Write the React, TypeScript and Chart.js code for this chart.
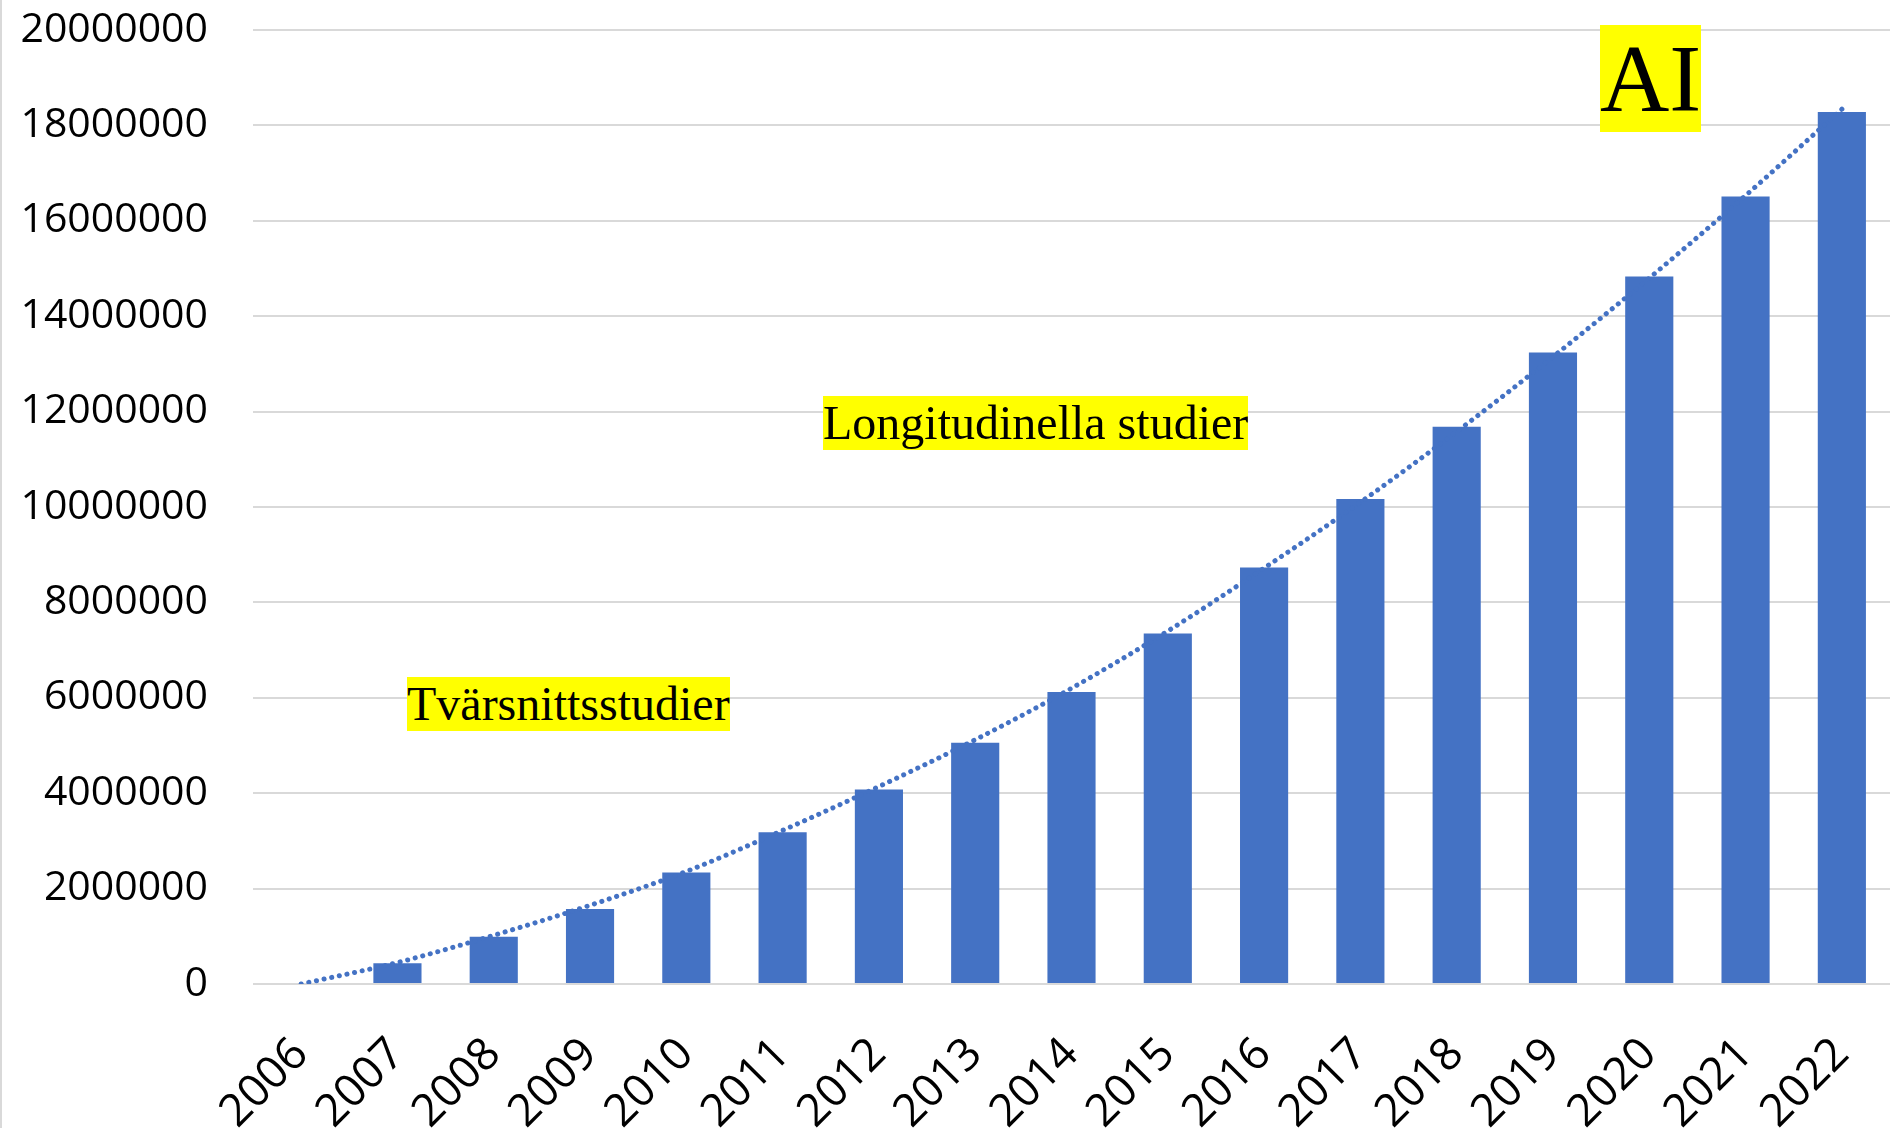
import React, { useEffect, useRef } from "react";
import { Chart, registerables } from "chart.js";

Chart.register(...registerables);

const years = [
  "2006", "2007", "2008", "2009", "2010", "2011", "2012", "2013", "2014",
  "2015", "2016", "2017", "2018", "2019", "2020", "2021", "2022",
];

const barValues = [
  0, 434000, 990000, 1570000, 2340000, 3180000, 4080000, 5060000, 6120000,
  7350000, 8730000, 10170000, 11680000, 13240000, 14830000, 16510000, 18280000,
];

const trendValues = [
  0, 450000, 1020000, 1650000, 2360000, 3220000, 4140000, 5120000, 6200000,
  7400000, 8720000, 10100000, 11580000, 13150000, 14800000, 16530000, 18340000,
];

const yMin = 0;
const yMax = 20000000;
const yStep = 2000000;

const labelTexts = ["Tvärsnittsstudier", "Longitudinella studier", "AI"];

const BLUE = "#4472C4";
const GRID = "#D9D9D9";

export default function App() {
  const canvasRef = useRef<HTMLCanvasElement | null>(null);

  useEffect(() => {
    document.body.style.margin = "0";
    const canvas = canvasRef.current;
    if (!canvas) return;
    const chart = new Chart(canvas, {
      type: "bar",
      data: {
        labels: years,
        datasets: [
          {
            type: "line",
            label: "Trend",
            data: trendValues,
            borderColor: BLUE,
            borderWidth: 5,
            borderDash: [0.1, 7.7],
            borderCapStyle: "round",
            pointRadius: 0,
            fill: false,
            cubicInterpolationMode: "monotone",
            order: 0,
          } as any,
          {
            type: "bar",
            label: "Antal",
            data: barValues,
            backgroundColor: BLUE,
            borderWidth: 0,
            barPercentage: 0.5,
            categoryPercentage: 1,
            order: 1,
          },
        ],
      },
      options: {
        responsive: false,
        animation: false,
        devicePixelRatio: 1,
        layout: { padding: { top: 30, left: 0, right: 0, bottom: 0 } },
        plugins: {
          legend: { display: false },
          tooltip: { enabled: false },
        },
        scales: {
          x: {
            grid: { display: false, drawTicks: false },
            border: { display: false },
            ticks: {
              autoSkip: false,
              minRotation: 45,
              maxRotation: 45,
              padding: 44,
              color: "#000",
              font: { family: "'Open Sans', sans-serif", size: 45 },
            },
            afterFit: (scale: any) => {
              scale.height = 144;
              scale.paddingLeft = 0;
              scale.paddingRight = 0;
              scale.paddingTop = 0;
              scale.paddingBottom = 0;
            },
          },
          y: {
            min: yMin,
            max: yMax,
            grid: { color: GRID, lineWidth: 2, drawTicks: false },
            border: { display: false },
            ticks: {
              stepSize: yStep,
              padding: 45,
              color: "#000",
              font: { family: "'Open Sans', sans-serif", size: 41 },
              callback: (v: any) => String(v),
            },
            afterFit: (scale: any) => {
              scale.width = 253;
              scale.paddingTop = 0;
              scale.paddingBottom = 0;
              scale.paddingLeft = 0;
              scale.paddingRight = 0;
            },
          },
        },
      },
    });
    return () => chart.destroy();
  }, []);

  const boxBase: React.CSSProperties = {
    position: "absolute",
    background: "#FFFF00",
    color: "#000",
    fontFamily: "'Liberation Serif', 'Times New Roman', serif",
    whiteSpace: "nowrap",
  };

  return (
    <div style={{ position: "absolute", left: 0, top: 0, width: 1890, height: 1128, background: "#fff" }}>
      <canvas ref={canvasRef} width={1890} height={1128} style={{ display: "block" }} />
      <div style={{ position: "absolute", left: 0, top: 0, width: 2, height: 1128, background: GRID }} />
      <div style={{ ...boxBase, left: 407, top: 677, fontSize: 48, lineHeight: "54px", height: 54 }}>
        {labelTexts[0]}
      </div>
      <div style={{ ...boxBase, left: 823, top: 396, fontSize: 48, lineHeight: "54px", height: 54 }}>
        {labelTexts[1]}
      </div>
      <div style={{ ...boxBase, left: 1600, top: 25, fontSize: 96, lineHeight: "107px", height: 107 }}>
        {labelTexts[2]}
      </div>
    </div>
  );
}
